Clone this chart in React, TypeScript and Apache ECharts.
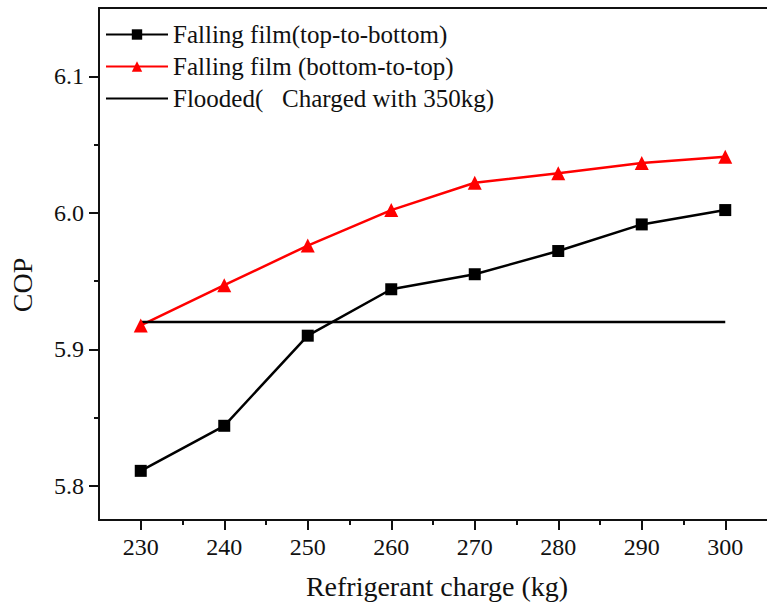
import React, { useEffect, useRef } from "react";
import * as echarts from "echarts";

const charges = [230, 240, 250, 260, 270, 280, 290, 300];
const topToBottom = [5.811, 5.844, 5.91, 5.944, 5.955, 5.972, 5.9915, 6.002];
const bottomToTop = [5.9175, 5.947, 5.976, 6.002, 6.022, 6.029, 6.0365, 6.041];
const floodedX = [230, 300];
const floodedY = [5.92, 5.92];
const xMajorTicks = [230, 240, 250, 260, 270, 280, 290, 300];
const xMinorTicks = [235, 245, 255, 265, 275, 285, 295];
const yMajorTicks = [5.8, 5.9, 6.0, 6.1];
const yMinorTicks = [5.85, 5.95, 6.05];
const seriesNames = [
  "Falling film(top-to-bottom)",
  "Falling film (bottom-to-top)",
  "Flooded(   Charged with 350kg)",
];
const xTitle = "Refrigerant charge (kg)";
const yTitle = "COP";

const FONT = "Liberation Serif";

export default function App() {
  const ref = useRef<HTMLDivElement>(null);
  useEffect(() => {
    if (!ref.current) return;
    const chart = echarts.init(ref.current, null, { renderer: "svg" });
    const axisLine = { show: true, lineStyle: { color: "#111", width: 2 } };
    const xBase = { type: "value", min: 225, max: 305, gridIndex: 0 };
    const yBase = { type: "value", min: 5.775, max: 6.15, gridIndex: 0 };
    const labelStyle = { fontFamily: FONT, fontSize: 24, color: "#111" };
    chart.setOption({
      animation: false,
      backgroundColor: "#fff",
      textStyle: { fontFamily: FONT },
      grid: { left: 99, top: 8, width: 677, height: 512 },
      legend: {
        orient: "vertical",
        left: 105,
        top: 22,
        padding: 0,
        itemGap: 7,
        itemWidth: 62,
        itemHeight: 13,
        textStyle: { fontFamily: FONT, fontSize: 25, color: "#111", lineHeight: 25 },
        data: [
          { name: seriesNames[0], textStyle: { fontFamily: FONT } },
          { name: seriesNames[1], textStyle: { fontFamily: FONT } },
          { name: seriesNames[2], itemStyle: { opacity: 0 }, textStyle: { fontFamily: FONT } },
        ],
      },
      xAxis: [
        {
          ...xBase,
          position: "bottom",
          axisLine,
          splitLine: { show: false },
          axisTick: { show: true, inside: false, length: 10, lineStyle: { color: "#111", width: 2 }, customValues: xMajorTicks },
          axisLabel: { show: true, margin: 15, ...labelStyle, customValues: xMajorTicks },
        },
        {
          ...xBase,
          position: "bottom",
          axisLine: { show: false },
          splitLine: { show: false },
          axisTick: { show: true, length: 5, lineStyle: { color: "#111", width: 2 }, customValues: xMinorTicks },
          axisLabel: { show: false },
        },
        {
          ...xBase,
          position: "top",
          axisLine,
          splitLine: { show: false },
          axisTick: { show: false },
          axisLabel: { show: false },
        },
      ],
      yAxis: [
        {
          ...yBase,
          position: "left",
          axisLine,
          splitLine: { show: false },
          axisTick: { show: true, length: 10, lineStyle: { color: "#111", width: 2 }, customValues: yMajorTicks },
          axisLabel: {
            show: true,
            margin: 15,
            ...labelStyle,
            customValues: yMajorTicks,
            formatter: (v: number) => v.toFixed(1),
          },
        },
        {
          ...yBase,
          position: "left",
          axisLine: { show: false },
          splitLine: { show: false },
          axisTick: { show: true, length: 5, lineStyle: { color: "#111", width: 2 }, customValues: yMinorTicks },
          axisLabel: { show: false },
        },
      ],
      graphic: [
        {
          type: "text",
          x: 437,
          y: 586,
          style: { text: xTitle, fontFamily: FONT, fontSize: 28, fill: "#111", textAlign: "center", textVerticalAlign: "middle" },
        },
        {
          type: "text",
          x: 22,
          y: 285,
          rotation: Math.PI / 2,
          style: { text: yTitle, fontFamily: FONT, fontSize: 28, fill: "#111", textAlign: "center", textVerticalAlign: "middle" },
        },
      ],
      series: [
        {
          name: seriesNames[0],
          type: "line",
          xAxisIndex: 0,
          yAxisIndex: 0,
          data: charges.map((c, i) => [c, topToBottom[i]]),
          symbol: "rect",
          symbolSize: 12,
          lineStyle: { color: "#000", width: 2.5 },
          itemStyle: { color: "#000" },
        },
        {
          name: seriesNames[1],
          type: "line",
          xAxisIndex: 0,
          yAxisIndex: 0,
          data: charges.map((c, i) => [c, bottomToTop[i]]),
          symbol: "triangle",
          symbolSize: 14,
          lineStyle: { color: "#ff0000", width: 2.5 },
          itemStyle: { color: "#ff0000" },
        },
        {
          name: seriesNames[2],
          type: "line",
          xAxisIndex: 0,
          yAxisIndex: 0,
          data: floodedX.map((x, i) => [x, floodedY[i]]),
          symbol: "none",
          lineStyle: { color: "#000", width: 2.5 },
          itemStyle: { color: "#000" },
        },
      ],
    });
    return () => chart.dispose();
  }, []);
  return <div ref={ref} style={{ width: 767, height: 614, position: "absolute", left: 0, top: 0 }} />;
}
